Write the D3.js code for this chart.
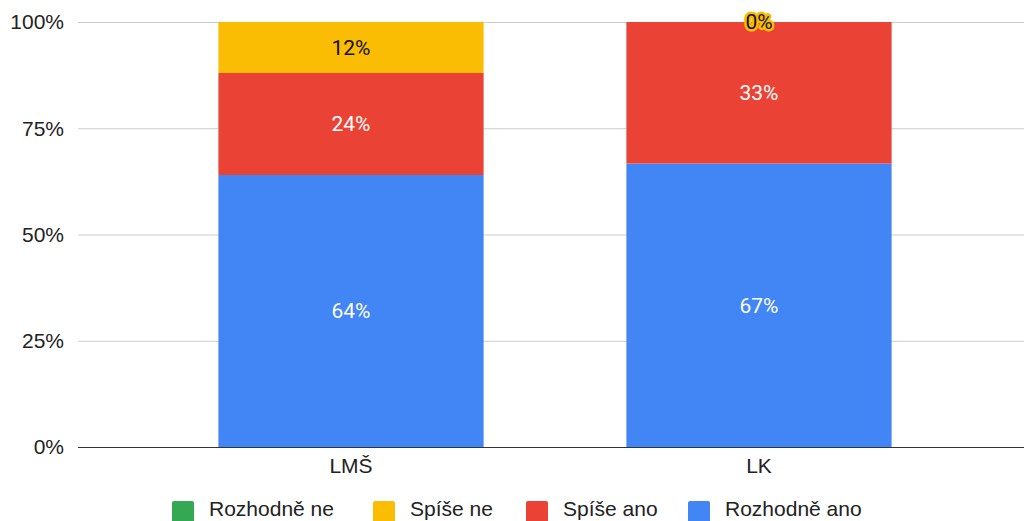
<!DOCTYPE html>
<html>
<head>
<meta charset="utf-8">
<script src="https://cdn.jsdelivr.net/npm/d3@7"></script>
<style>
  body { margin: 0; background: #fff; }
  svg { display: block; font-family: 'Liberation Sans', Arial, sans-serif; }
</style>
</head>
<body>
<div id="chart"></div>
<script>
const categories = ['LMŠ', 'LK'];
const seriesNames = ['Rozhodně ano', 'Spíše ano', 'Spíše ne', 'Rozhodně ne'];
const rozhodneAno = [64, 66.7];
const spiseAno = [24, 33.3];
const spiseNe = [12, 0];
const rozhodneNe = [null, null];
const seriesColors = ['#4285F4', '#EA4335', '#FBBC04', '#34A853'];
const tickValues = [0, 25, 50, 75, 100];
const legendOrder = ['Rozhodně ne', 'Spíše ne', 'Spíše ano', 'Rozhodně ano'];

const width = 1024;
const height = 521;
const plotTop = 22;
const plotBottom = 447;
const gridLeft = 78;

const svg = d3.select('#chart')
  .append('svg')
  .attr('width', width)
  .attr('height', height);

const yScale = d3.scaleLinear().domain([0, 100]).range([plotBottom, plotTop]);
const xScale = d3.scaleBand().domain(categories).range([147, 963]).paddingInner(0.35).paddingOuter(0.175);
const pct = (v) => `${d3.format('.0f')(v)}%`;

// gridlines
svg.append('g')
  .selectAll('line')
  .data(tickValues)
  .enter()
  .append('line')
  .attr('x1', gridLeft)
  .attr('x2', width)
  .attr('y1', (d) => yScale(d) + 0.5)
  .attr('y2', (d) => yScale(d) + 0.5)
  .attr('stroke', (d) => (d === 0 ? '#333' : '#ccc'))
  .attr('stroke-width', 1);

// y tick labels
svg.append('g')
  .selectAll('text')
  .data(tickValues)
  .enter()
  .append('text')
  .attr('x', 64)
  .attr('y', (d) => yScale(d))
  .attr('dy', '0.35em')
  .attr('text-anchor', 'end')
  .attr('font-size', 21)
  .attr('fill', '#222')
  .text((d) => `${d}%`);

// stacked data
const values = [rozhodneAno, spiseAno, spiseNe, rozhodneNe];
const table = categories.map((c, i) => {
  const row = { cat: c };
  seriesNames.forEach((s, j) => { row[s] = values[j][i]; });
  return row;
});
const stack = d3.stack().keys(seriesNames).value((d, k) => d[k] || 0);
const stacked = stack(table);

const layers = svg.append('g')
  .selectAll('g')
  .data(stacked)
  .enter()
  .append('g')
  .attr('fill', (d, i) => seriesColors[i]);

layers.selectAll('rect')
  .data((d) => d)
  .enter()
  .append('rect')
  .attr('x', (d) => xScale(d.data.cat))
  .attr('width', xScale.bandwidth())
  .attr('y', (d) => yScale(d[1]))
  .attr('height', (d) => yScale(d[0]) - yScale(d[1]));

// data labels
const labels = [];
stacked.forEach((layer, i) => {
  layer.forEach((d) => {
    const v = d.data[layer.key];
    if (v === null || v === undefined) return;
    labels.push({ v, cat: d.data.cat, mid: (d[0] + d[1]) / 2, i });
  });
});

const labelG = svg.append('g').attr('font-family', 'Roboto, sans-serif').attr('font-size', 21);

// zero-value labels get a halo in the series colour
labelG.selectAll('text.halo')
  .data(labels.filter((d) => d.v === 0))
  .enter()
  .append('text')
  .attr('class', 'halo')
  .attr('x', (d) => xScale(d.cat) + xScale.bandwidth() / 2)
  .attr('y', (d) => yScale(d.mid))
  .attr('dy', '0.35em')
  .attr('text-anchor', 'middle')
  .attr('fill', '#111')
  .attr('stroke', (d) => seriesColors[d.i])
  .attr('stroke-width', 5)
  .attr('stroke-linejoin', 'round')
  .attr('paint-order', 'stroke')
  .text((d) => pct(d.v));

labelG.selectAll('text.val')
  .data(labels.filter((d) => d.v !== 0))
  .enter()
  .append('text')
  .attr('class', 'val')
  .attr('x', (d) => xScale(d.cat) + xScale.bandwidth() / 2)
  .attr('y', (d) => yScale(d.mid))
  .attr('dy', '0.35em')
  .attr('text-anchor', 'middle')
  .attr('fill', (d) => (d.i === 2 ? '#111' : '#fff'))
  .text((d) => pct(d.v));

// x labels
svg.append('g')
  .selectAll('text')
  .data(categories)
  .enter()
  .append('text')
  .attr('x', (d) => xScale(d) + xScale.bandwidth() / 2)
  .attr('y', 466)
  .attr('dy', '0.35em')
  .attr('text-anchor', 'middle')
  .attr('font-size', 21)
  .attr('fill', '#222')
  .text((d) => d);

// legend
const legendX = [172, 373, 526, 688];
const legend = svg.append('g')
  .selectAll('g')
  .data(legendOrder)
  .enter()
  .append('g')
  .attr('transform', (d, i) => `translate(${legendX[i]}, 501)`);

legend.append('rect')
  .attr('x', 0)
  .attr('y', 0)
  .attr('width', 22)
  .attr('height', 22)
  .attr('rx', 2)
  .attr('fill', (d) => seriesColors[seriesNames.indexOf(d)]);

legend.append('text')
  .attr('x', 37)
  .attr('y', 15)
  .attr('font-size', 21)
  .attr('fill', '#222')
  .text((d) => d);
</script>
</body>
</html>
